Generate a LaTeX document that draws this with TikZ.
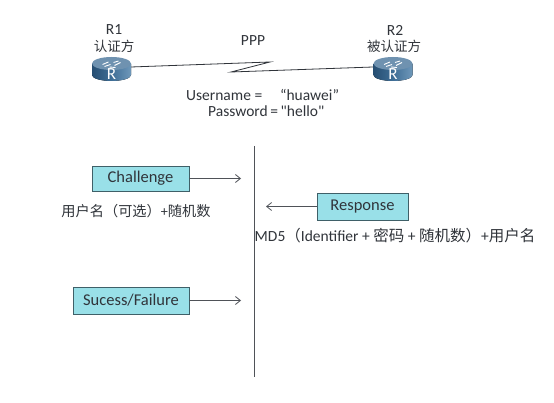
\documentclass[tikz,border=0pt]{standalone}
\usepackage{fontspec}
\setmainfont{Carlito}[Ligatures=TeXOff]
\newfontfamily\cjk{Noto Sans CJK SC}
\usetikzlibrary{arrows.meta}
\definecolor{boxfill}{HTML}{99E0E8}
\definecolor{boxline}{HTML}{3F6068}
\definecolor{ink}{HTML}{30343A}
\definecolor{rdark}{HTML}{264E72}
\definecolor{rmid}{HTML}{3F6E96}
\definecolor{rlight}{HTML}{6F98BA}
\tikzset{
  lab/.style={inner sep=0pt,text=ink,font=\fontsize{13.5}{15}\selectfont},
  namelab/.style={inner sep=0pt,text=ink,font=\fontsize{15.5}{15}\selectfont},
  loginlab/.style={inner sep=0pt,text=ink,font=\fontsize{15.5}{16}\selectfont},
  smalllab/.style={inner sep=0pt,text=ink,font=\fontsize{14.2}{15}\selectfont},
  mdlab/.style={inner sep=0pt,text=ink,font=\fontsize{15.5}{15}\selectfont},
  msgbox/.style={draw=boxline,fill=boxfill,line width=0.8pt,inner sep=0pt,text=ink,font=\fontsize{16.5}{16}\selectfont},
  flow/.style={draw=ink!85,line width=0.8pt,-{Straight Barb[length=5pt,width=8pt]}},
  link/.style={draw=ink,line width=0.8pt},
  routerpic/.pic={
    \fill[left color=rdark,right color=rlight,middle color=rmid] (-19.5,-5) -- (-19.5,6) arc[x radius=19.5,y radius=6,start angle=180,end angle=0] -- (19.5,-5) -- cycle;
    \fill[rmid!75!white] (0,-5.5) ellipse[x radius=19.5,y radius=6.5];
    \draw[white,line width=0.9pt] (-9,-4.5) -- (-3,-7) (-7,-2.5) -- (-1,-4.5) (9,-6.5) -- (3,-3.5) (7,-8) -- (2,-6.5) (-2,-2) -- (4,-1.5);
    \node[text=white,inner sep=0pt,font=\fontsize{17}{17}\selectfont] at (0,5.5) {R};
  }
}
\begin{document}
\begin{tikzpicture}[x=1pt,y=-1pt]
\useasboundingbox[fill=white] (0,0) rectangle (554,403);
% routers and link
\coordinate (r1port) at (131,67);
\coordinate (z1) at (270,62);
\coordinate (z2) at (231,72);
\coordinate (r2port) at (373,67);
\draw[link] (r1port) -- (z1) -- (z2) -- (r2port);
\pic at (111.5,69) {routerpic};
\pic at (393,69) {routerpic};
\node[namelab] (r1name) at (114,30) {R1};
\node[lab] (r1role) at (114,46) {\cjk 认证方};
\node[namelab] (r2name) at (395,30) {R2};
\node[lab] (r2role) at (394,46) {\cjk 被认证方};
\node[namelab] (ppp) at (253,41) {PPP};
\node[loginlab,anchor=west] (user) at (186,95) {Username =\hspace{1.15em}“huawei”};
\node[loginlab,anchor=west] (pass) at (208,111) {Password\,=\,"hello"};
% timeline
\coordinate (top) at (254,146);
\coordinate (bottom) at (254,377);
\draw[draw=ink!85,line width=0.9pt] (top) -- (bottom);
% messages
\node[msgbox,minimum width=97pt,minimum height=25pt] (chal) at (140.5,178.5) {Challenge};
\coordinate (chalend) at (241,178.5);
\draw[flow] (chal.east) -- (chalend);
\node[smalllab] (chaltext) at (136,211) {{\cjk 用户名（可选）}+{\cjk 随机数}};
\node[msgbox,minimum width=91pt,minimum height=27pt] (resp) at (362.5,206.5) {Response};
\coordinate (respend) at (266,206.5);
\draw[flow] (resp.west) -- (respend);
\node[mdlab] (resptext) at (395,236) {MD5{\cjk（}Identifier + {\cjk 密码} + {\cjk 随机数）}+{\cjk 用户名}};
\node[msgbox,minimum width=116pt,minimum height=27pt] (fail) at (131,300.5) {Sucess/Failure};
\coordinate (failend) at (241,300.5);
\draw[flow] (fail.east) -- (failend);
\end{tikzpicture}
\end{document}
